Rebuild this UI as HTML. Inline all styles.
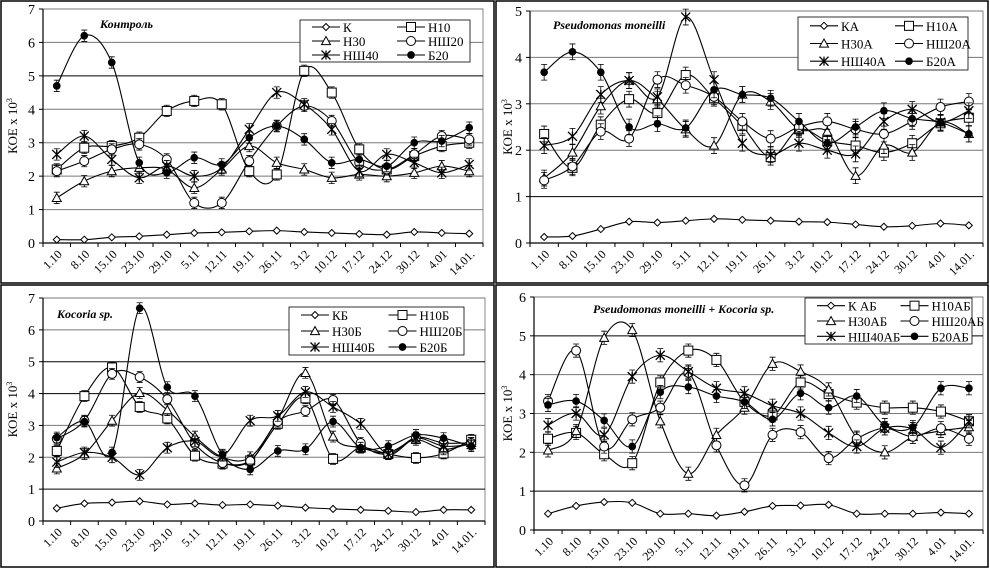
<!DOCTYPE html>
<html><head><meta charset="utf-8">
<style>
html,body{margin:0;padding:0;background:#fff;}
svg{display:block;font-family:"Liberation Serif","DejaVu Serif",serif;}
</style></head>
<body>
<svg id="chart" width="990" height="568" viewBox="0 0 990 568" xmlns="http://www.w3.org/2000/svg">
<rect x="0" y="0" width="990" height="568" fill="#fff"/>
</svg>
<script>
const categories = ["1.10","8.10","15.10","23.10","29.10","5.11","12.11","19.11","26.11","3.12","10.12","17.12","24.12","30.12","4.01","14.01."];

const p1Names = ["К","Н10","Н30","НШ20","НШ40","Б20"];
const p1K    = [0.1,0.1,0.17,0.2,0.25,0.3,0.32,0.35,0.37,0.33,0.3,0.27,0.25,0.33,0.3,0.28];
const p1H10  = [2.2,2.85,2.9,3.15,3.95,4.25,4.15,2.15,2.05,5.15,4.5,2.8,2.2,2.6,2.9,3.0];
const p1H30  = [1.35,1.85,2.15,2.25,2.2,1.65,2.2,2.9,2.4,2.2,1.95,2.05,2.0,2.1,2.3,2.15];
const p1NSh20= [2.15,2.45,2.8,2.95,2.5,1.2,1.2,2.45,3.5,4.1,3.65,2.4,2.2,2.65,3.2,3.1];
const p1NSh40= [2.65,3.2,2.5,1.95,2.3,2.0,2.25,3.4,4.5,4.15,3.4,2.15,2.65,2.4,2.1,2.35];
const p1B20  = [4.7,6.2,5.4,2.4,2.1,2.55,2.35,3.15,3.5,3.1,2.4,2.5,2.3,3.0,3.05,3.45];

const p2Names = ["КА","Н10А","Н30А","НШ20А","НШ40А","Б20А"];
const p2K    = [0.13,0.15,0.3,0.46,0.44,0.48,0.52,0.5,0.48,0.46,0.45,0.4,0.35,0.37,0.42,0.38];
const p2H10  = [2.35,1.62,2.55,3.1,2.8,3.62,3.12,2.52,1.85,2.45,2.2,2.1,1.95,2.15,2.58,2.7];
const p2H30  = [1.4,1.95,2.95,3.5,3.1,2.45,2.1,3.2,3.05,2.45,2.4,1.45,2.1,1.95,2.6,2.35];
const p2NSh20= [1.35,1.65,2.4,2.25,3.52,3.4,3.15,2.62,2.25,2.5,2.62,2.45,2.35,2.62,2.93,3.05];
const p2NSh40= [2.1,2.3,3.2,3.5,3.15,4.87,3.52,2.15,1.9,2.15,2.0,1.92,2.62,2.88,2.6,2.85];
const p2B20  = [3.68,4.12,3.68,2.5,2.57,2.48,3.3,3.2,3.12,2.62,2.15,2.5,2.85,2.68,2.6,2.35];

const p3Names = ["КБ","Н10Б","Н30Б","НШ20Б","НШ40Б","Б20Б"];
const p3K    = [0.4,0.55,0.58,0.62,0.52,0.55,0.5,0.52,0.48,0.42,0.38,0.35,0.32,0.28,0.35,0.35];
const p3H10  = [2.2,3.92,4.82,3.58,3.22,2.05,1.8,1.9,3.05,3.85,1.95,2.3,2.1,1.98,2.12,2.55];
const p3H30  = [1.65,2.1,3.15,4.02,3.48,2.65,2.0,2.0,3.2,4.65,2.65,2.3,2.15,2.55,2.25,2.45];
const p3NSh20= [2.58,3.15,4.62,4.52,3.82,2.42,1.82,1.88,3.12,3.45,3.8,2.45,2.1,2.62,2.45,2.45];
const p3NSh40= [1.85,2.15,2.0,1.45,2.3,2.5,2.05,3.15,3.3,4.05,3.58,3.05,2.1,2.6,2.35,2.4];
const p3B20  = [2.62,3.12,2.15,6.68,4.2,3.92,2.08,1.62,2.2,2.25,3.12,2.3,2.35,2.7,2.6,2.35];

const p4Names = ["К АБ","Н10АБ","Н30АБ","НШ20АБ","НШ40АБ","Б20АБ"];
const p4K    = [0.42,0.62,0.72,0.7,0.42,0.42,0.37,0.47,0.62,0.63,0.65,0.42,0.42,0.42,0.45,0.42];
const p4H10  = [2.35,2.5,1.95,1.72,3.8,4.62,4.38,3.3,2.95,3.8,3.5,3.28,3.15,3.15,3.05,2.8];
const p4H30  = [2.05,2.55,4.95,5.15,2.8,1.45,2.45,3.15,4.28,4.08,3.62,2.38,2.0,2.4,2.55,2.65];
const p4NSh20= [3.32,4.62,2.15,2.85,3.15,4.05,2.18,1.15,2.45,2.52,1.85,2.35,2.62,2.4,2.62,2.35];
const p4NSh40= [2.7,3.0,2.45,3.95,4.5,4.08,3.65,3.52,3.2,3.0,2.5,2.15,2.62,2.6,2.12,2.8];
const p4B20  = [3.22,3.32,2.82,2.15,3.55,3.68,3.45,3.3,2.85,3.52,3.15,3.45,2.7,2.65,3.65,3.65];

const markerTypes = ["diamond","square","triangle","circle","star","dot"];
const NS = "http://www.w3.org/2000/svg";
const svg = document.getElementById("chart");

function mk(tag, attrs, parent){
  const e = document.createElementNS(NS, tag);
  for (const k in attrs) e.setAttribute(k, attrs[k]);
  (parent||svg).appendChild(e);
  return e;
}

function marker(g, type, x, y, s){
  let e;
  if (type==="diamond") e = mk("path",{d:`M${x} ${y-s}L${x+s} ${y}L${x} ${y+s}L${x-s} ${y}Z`,fill:"#fff",stroke:"#000","stroke-width":1},g);
  else if (type==="square") e = mk("rect",{x:x-s,y:y-s,width:2*s,height:2*s,fill:"#fff",stroke:"#000","stroke-width":1},g);
  else if (type==="triangle") e = mk("path",{d:`M${x} ${y-s}L${x+s} ${y+s*0.8}L${x-s} ${y+s*0.8}Z`,fill:"#fff",stroke:"#000","stroke-width":1},g);
  else if (type==="circle") e = mk("circle",{cx:x,cy:y,r:s,fill:"#fff",stroke:"#000","stroke-width":1},g);
  else if (type==="star") e = mk("path",{d:`M${x-s} ${y-s}L${x+s} ${y+s}M${x+s} ${y-s}L${x-s} ${y+s}M${x} ${y-s}L${x} ${y+s}`,fill:"none",stroke:"#000","stroke-width":1.3},g);
  else e = mk("circle",{cx:x,cy:y,r:s*0.85,fill:"#000"},g);
  
  
}

function smoothPath(pts){
  let d = `M${pts[0][0]} ${pts[0][1]}`;
  for (let i=0;i<pts.length-1;i++){
    const p0 = pts[i-1]||pts[i], p1=pts[i], p2=pts[i+1], p3=pts[i+2]||pts[i+1];
    const c1x = p1[0]+(p2[0]-p0[0])/6, c1y = p1[1]+(p2[1]-p0[1])/6;
    const c2x = p2[0]-(p3[0]-p1[0])/6, c2y = p2[1]-(p3[1]-p1[1])/6;
    d += `C${c1x} ${c1y} ${c2x} ${c2y} ${p2[0]} ${p2[1]}`;
  }
  return d;
}

function drawPanel(cfg){
  const g = mk("g",{});
  
  
  // frame
  const fr = mk("rect",{x:cfg.fx,y:cfg.fy,width:cfg.fw,height:cfg.fh,fill:"#fff",stroke:"#000","stroke-width":1.5},g);
  
  
  const X0=cfg.x0, X1=cfg.x1, Y0=cfg.y0, Y1=cfg.yTop, max=cfg.max;
  const n = categories.length, bw=(X1-X0)/n;
  const xs = i => X0 + bw*(i+0.5);
  const ys = v => Y0 - (Y0-Y1)*v/max;
  // plot-area border
  mk("rect",{x:X0,y:Y1,width:X1-X0,height:Y0-Y1,fill:"none",stroke:"#888","stroke-width":1},g);
  // gridlines & ticks
  for (let v=0; v<=max; v++){
    if (v>0){
      const gl = mk("line",{x1:X0,x2:X1,y1:ys(v),y2:ys(v),stroke:(cfg.dark.includes(v)?"#000":"#777"),"stroke-width":1},g);
      
      
    }
    mk("line",{x1:X0-4,x2:X0,y1:ys(v),y2:ys(v),stroke:"#000"},g);
    const t = mk("text",{x:X0-8,y:ys(v)+5,"text-anchor":"end","font-size":14},g);
    t.textContent = v;
    
    
  }
  mk("line",{x1:X0,x2:X0,y1:Y1,y2:Y0,stroke:"#000","stroke-width":1.2},g);
  mk("line",{x1:X0,x2:X1,y1:Y0,y2:Y0,stroke:"#000","stroke-width":1.2},g);
  for (let i=0;i<=n;i++) mk("line",{x1:X0+bw*i,x2:X0+bw*i,y1:Y0,y2:Y0+4,stroke:"#000"},g);
  categories.forEach((c,i)=>{
    const t = mk("text",{x:xs(i)+6,y:Y0+12,"text-anchor":"end","font-size":12,transform:`rotate(-45 ${xs(i)+6} ${Y0+12})`},g);
    t.textContent = c;
    
    
  });
  // y title
  const yt = mk("text",{x:cfg.fx+16,y:(Y0+Y1)/2,"text-anchor":"middle","font-size":13,transform:`rotate(-90 ${cfg.fx+16} ${(Y0+Y1)/2})`},g);
  yt.innerHTML = 'КОЕ х 10<tspan font-size="8" dy="-5">3</tspan>';
  
  
  // title
  const tt = mk("text",{x:cfg.tx,y:cfg.ty,"font-size":12,"font-style":"italic","font-weight":"bold"},g);
  tt.textContent = cfg.title;
  
  
  // series
  cfg.series.forEach((vals,si)=>{
    const sg = mk("g",{},g);
    
    
    const pts = vals.map((v,i)=>[xs(i),ys(v)]);
    const p = mk("path",{d:smoothPath(pts),fill:"none",stroke:"#000","stroke-width":1.1},sg);
    
    
    if (si>0){
      pts.forEach(pt=>{
        const e = (Y0-Y1)/max*0.17;
        mk("path",{d:`M${pt[0]} ${pt[1]-e}V${pt[1]+e}M${pt[0]-3} ${pt[1]-e}H${pt[0]+3}M${pt[0]-3} ${pt[1]+e}H${pt[0]+3}`,stroke:"#000","stroke-width":0.8,fill:"none"},sg);
      });
    }
    pts.forEach(pt=>marker(sg, markerTypes[si], pt[0], pt[1], si===0?3.5:4.5));
  });
  // legend
  const L = cfg.leg;
  const lg = mk("g",{},g);
  
  
  mk("rect",{x:L.x,y:L.y,width:L.w,height:L.h,fill:"#fff",stroke:"#000","stroke-width":0.8},lg);
  cfg.names.forEach((nm,i)=>{
    const col = i%2, row = Math.floor(i/2);
    const lx = L.x + 12 + col*L.w/2, ly = L.y + L.h/6 + row*L.h/3;
    const le = mk("g",{},lg);
    
    
    mk("line",{x1:lx,x2:lx+28,y1:ly,y2:ly,stroke:"#000","stroke-width":1.1},le);
    marker(le, markerTypes[i], lx+14, ly, i===0?3.5:4.5);
    const t = mk("text",{x:lx+31,y:ly+5,"font-size":13},le);
    t.textContent = nm;
  });
}

drawPanel({name:"panel-control",fx:1,fy:1,fw:493,fh:282,x0:43,x1:483,y0:243,yTop:9,max:7,dark:[5],
  title:"Контроль",tx:100,ty:28,names:p1Names,series:[p1K,p1H10,p1H30,p1NSh20,p1NSh40,p1B20],
  leg:{x:300,y:20,w:170,h:42}});
drawPanel({name:"panel-pseudomonas",fx:496,fy:1,fw:492,fh:282,x0:530,x1:983,y0:243,yTop:11,max:5,dark:[1],
  title:"Pseudomonas moneilli",tx:553,ty:29,names:p2Names,series:[p2K,p2H10,p2H30,p2NSh20,p2NSh40,p2B20],
  leg:{x:798,y:17,w:170,h:53}});
drawPanel({name:"panel-kocoria",fx:1,fy:285,fw:493,fh:282,x0:43,x1:485,y0:521,yTop:298,max:7,dark:[1,4,5],
  title:"Kocoria sp.",tx:57,ty:318,names:p3Names,series:[p3K,p3H10,p3H30,p3NSh20,p3NSh40,p3B20],
  leg:{x:289,y:307,w:175,h:48}});
drawPanel({name:"panel-combined",fx:496,fy:285,fw:492,fh:282,x0:534,x1:983,y0:530,yTop:297,max:6,dark:[1,5],
  title:"Pseudomonas moneilli + Kocoria sp.",tx:593,ty:313,names:p4Names,series:[p4K,p4H10,p4H30,p4NSh20,p4NSh40,p4B20],
  leg:{x:805,y:298,w:167,h:46}});
</script>
</body></html>
